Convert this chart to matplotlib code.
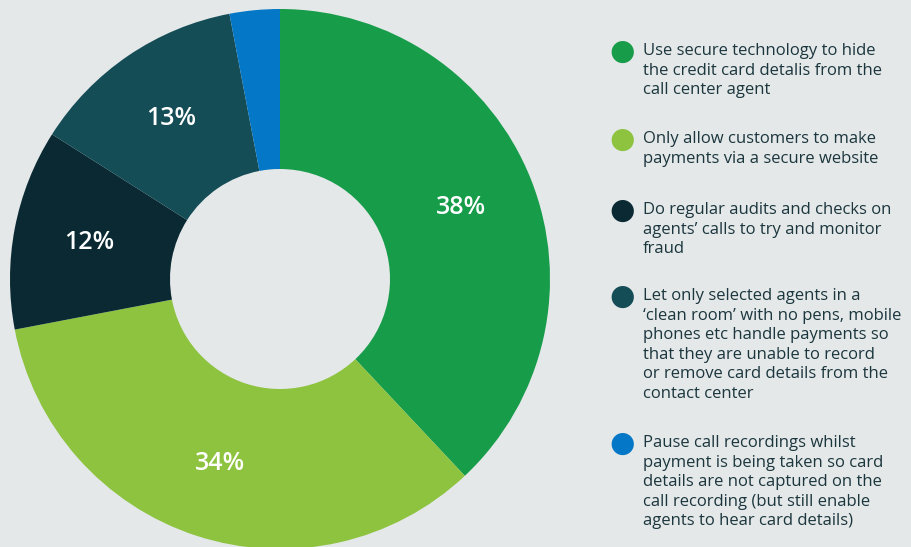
import matplotlib.pyplot as plt

# datos
shares = [38, 34, 12, 13, 3]
colors = ['#179c49', '#8dc33f', '#0a2932', '#154d57', '#0477c7']
legend_labels = [
    'Use secure technology to hide\nthe credit card detalis from the\ncall center agent',
    'Only allow customers to make\npayments via a secure website',
    'Do regular audits and checks on\nagents\u2019 calls to try and monitor\nfraud',
    'Let only selected agents in a\n\u2018clean room\u2019 with no pens, mobile\nphones etc handle payments so\nthat they are unable to record\nor remove card details from the\ncontact center',
    'Pause call recordings whilst\npayment is being taken so card\ndetails are not captured on the\ncall recording (but still enable\nagents to hear card details)',
]
legend_y = [52, 140, 211, 297, 444]

W, H = 912, 547
bg = '#e4e8e9'
txt = '#1b363d'
plt.rcParams['font.family'] = ['Open Sans', 'DejaVu Sans']

fig = plt.figure(figsize=(W / 100, H / 100), dpi=100, facecolor=bg)

cx, cy, r = 280, 279, 270
ax = fig.add_axes([(cx - r) / W, (H - cy - r) / H, 2 * r / W, 2 * r / H])
ax.set_facecolor(bg)


def pct(v):
    return '%d%%' % round(v) if v > 5 else ''


wedges, texts, autotexts = ax.pie(
    shares, colors=colors, startangle=90, counterclock=False,
    radius=1, autopct=pct, pctdistance=0.72,
    wedgeprops=dict(width=1 - 110 / 270, linewidth=0),
    textprops=dict(color='white', fontsize=18, fontweight='semibold'))
ax.set_xlim(-1, 1)
ax.set_ylim(-1, 1)
ax.set_aspect('equal')
ax.axis('off')

# leyenda
for lab, col, y in zip(legend_labels, colors, legend_y):
    fig.text(622 / W, 1 - y / H, '\u25cf', color=col, fontsize=21,
             ha='center', va='center', family='DejaVu Sans')
    fig.text(643 / W, 1 - (y - 9) / H, lab, color=txt, fontsize=12,
             ha='left', va='top', linespacing=1.3)

fig.savefig('out.png', dpi=100, facecolor=bg)
